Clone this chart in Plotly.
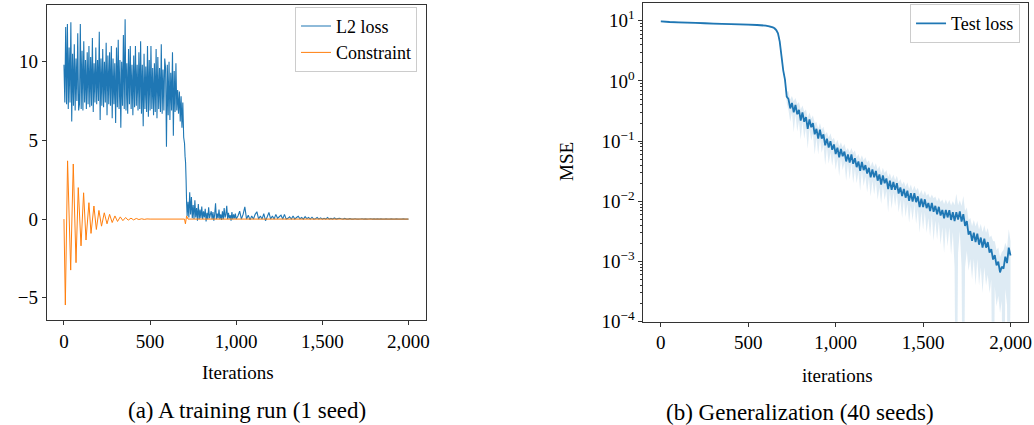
import plotly.graph_objects as go
import numpy as np

SERIF = "Liberation Serif, Times New Roman, serif"
BLUE = "#1f77b4"
ORANGE = "#ff7f0e"

# ---------------- (a) training run ----------------
l2_iter = (list(range(0, 701, 5)) + [703, 706, 709, 712]
           + list(range(715, 1001, 5)) + list(range(1010, 2001, 10)))
l2_loss = [
    9.8, 7.4, 12.2, 7.3, 12.4, 7.0, 10.9, 7.4, 12.5, 6.2,
    10.5, 7.2, 11.1, 6.9, 10.2, 7.5, 11.8, 6.9, 7.3, 12.4,
    7.0, 10.7, 6.9, 11.3, 7.4, 10.1, 7.0, 10.6, 7.3, 11.0,
    7.1, 10.3, 7.2, 11.5, 6.8, 9.9, 7.4, 10.9, 7.3, 10.1,
    7.5, 11.9, 6.3, 10.2, 7.2, 10.8, 7.1, 10.0, 7.4, 11.2,
    6.6, 10.4, 7.3, 10.6, 7.2, 11.0, 6.4, 10.2, 7.3, 9.9,
    6.1, 10.9, 7.1, 11.4, 7.0, 10.1, 5.8, 10.0, 7.2, 11.7,
    7.0, 12.7, 6.9, 9.9, 6.7, 10.8, 7.3, 11.0, 7.0, 9.8,
    6.6, 10.4, 7.1, 11.0, 7.2, 9.8, 6.9, 10.6, 7.0, 11.3,
    6.7, 9.8, 5.9, 10.5, 7.0, 9.7, 6.8, 11.0, 6.5, 10.1,
    6.9, 11.0, 7.0, 9.6, 6.6, 9.9, 6.8, 10.8, 6.4, 10.3,
    7.0, 9.6, 6.8, 11.1, 6.7, 9.5, 6.9, 10.2, 9.6, 4.6,
    9.8, 6.6, 10.0, 6.3, 9.3, 6.9, 10.6, 5.3, 9.4, 6.8,
    9.9, 6.9, 8.2, 6.7, 8.1, 6.2, 7.8, 5.8, 7.4, 5.2,
    4.8,
    4.0, 3.6, 2.5, 1.0,
    0.2, 1.1, 0.1, 1.7, 0.3, 1.4, 0.05, 0.9, 0.0, 1.2,
    0.1, 0.7, -0.1, 0.95, 0.0, 0.6, 0.05, 0.8, 0.0, 0.5,
    0.1, 0.65, -0.15, 0.4, 0.0, 0.75, 0.05, 0.3, 0.5, 0.0,
    0.45, -0.1, 0.3, 1.0, 0.0, 0.35, 0.05, 0.6, 0.0, 0.3,
    -0.05, 0.5, 0.0, 0.7, 0.1, 0.3, 0.85, 0.0, 0.4, 0.05,
    0.25, -0.1, 0.45, 0.0, 0.3, 0.05, 0.35, 0.0,
    0.2, 0.5, 0.0, 0.3, 0.78, 0.0, 0.25, -0.05, 0.2, 0.0,
    0.3, 0.47, 0.0, 0.2, 0.0, 0.35, -0.1, 0.15, 0.42, 0.0,
    0.2, 0.0, 0.3, 0.05, 0.15, 0.25, 0.0, 0.3, 0.0, 0.05,
    0.15, 0.0, 0.2, 0.0, 0.1, 0.18, 0.02, 0.1, 0.0, 0.15,
    0.03, 0.1, 0.0, 0.12, 0.0, 0.02, 0.1, 0.0, 0.08, 0.0,
    0.05, 0.0, 0.1, 0.0, 0.04, 0.0, 0.07, 0.0, 0.03, 0.05,
    0.02, 0.0, 0.04, 0.0, 0.0, 0.03, 0.0, 0.0, 0.02, 0.0,
    0.0, 0.01, 0.02, 0.0, 0.01, 0.0, 0.01, 0.02, 0.0, 0.01,
    0.0, 0.01, 0.0, 0.01, 0.0, 0.0, 0.01, 0.0, 0.0, 0.01,
    0.0, 0.0, 0.01, 0.0, 0.0, 0.0, 0.01, 0.0, 0.0, 0.0,
]

c_iter = [0, 8, 21, 39, 54, 70, 83, 99, 114, 128, 145, 157, 174, 188, 203,
          218, 234, 250, 265, 280, 296, 311, 327, 342, 358, 373, 389, 404,
          420, 435, 451, 466, 482, 500, 700, 705, 712, 720, 2000]
c_val = [0, -5.46, 3.7, -3.24, 3.5, -2.77, 2.0, -1.7, 1.67, -1.33, 1.04,
         -0.91, 0.83, -0.66, 0.55, -0.45, 0.4, -0.3, 0.3, -0.22, 0.2, -0.15,
         0.14, -0.1, 0.1, -0.07, 0.06, -0.05, 0.04, -0.03, 0.02, -0.02, 0.01,
         0, 0, -0.3, 0.2, 0, 0]

# ---------------- (b) generalization ----------------
test_iter = ([0, 50, 100, 150, 200, 250, 300, 350, 400, 450, 500, 550, 600,
              620, 640, 650, 660, 670, 680, 690] + list(range(700, 2001, 10)))
test_mean = [
    9.8, 9.55, 9.4, 9.3, 9.2, 9.1, 9.0, 8.9, 8.8, 8.7, 8.6, 8.5, 8.3,
    8.1, 7.8, 7.5, 7.0, 6.2, 4.5, 2.6,
    1.5, 1.05, 0.55, 0.50, 0.35, 0.43, 0.30, 0.40, 0.28, 0.33,
    0.22, 0.30, 0.21, 0.25, 0.16, 0.23, 0.17, 0.20, 0.13, 0.16,
    0.11, 0.155, 0.11, 0.13, 0.085, 0.11, 0.078, 0.10, 0.072, 0.088,
    0.061, 0.078, 0.054, 0.074, 0.056, 0.067, 0.046, 0.060, 0.044, 0.060,
    0.042, 0.052, 0.037, 0.046, 0.032, 0.045, 0.033, 0.040, 0.029, 0.036,
    0.025, 0.034, 0.025, 0.032, 0.022, 0.028, 0.019, 0.027, 0.020, 0.024,
    0.016, 0.022, 0.0155, 0.021, 0.0155, 0.020, 0.0135, 0.017, 0.0122, 0.016,
    0.0115, 0.015, 0.0102, 0.0137, 0.0099, 0.0136, 0.0097, 0.0121, 0.0080, 0.0111,
    0.0080, 0.0108, 0.0077, 0.0094, 0.0069, 0.0094, 0.0067, 0.0084, 0.0061, 0.0081,
    0.0058, 0.0072, 0.0052, 0.0072, 0.0054, 0.0071, 0.0049, 0.0066, 0.0047, 0.0066,
    0.0050, 0.0068, 0.0046, 0.0061, 0.0039, 0.0047, 0.0028, 0.0032, 0.0022, 0.0030,
    0.0021, 0.0029, 0.0019, 0.0025, 0.0017, 0.0024, 0.0017, 0.0021, 0.0014, 0.0016,
    0.00108, 0.00128, 0.00086, 0.00099, 0.00066, 0.00082, 0.00076, 0.0012, 0.00094, 0.0017,
    0.00126,
]
test_std = [
    0.3, 0.3, 0.3, 0.3, 0.3, 0.3, 0.3, 0.3, 0.3, 0.3, 0.3, 0.3, 0.3,
    0.3, 0.35, 0.4, 0.5, 0.6, 0.6, 0.4,
    0.1, 0.15, 0.12, 0.175, 0.14, 0.13, 0.16, 0.12, 0.135, 0.115,
    0.115, 0.09, 0.10, 0.084, 0.085, 0.069, 0.068, 0.066, 0.07, 0.048,
    0.05, 0.045, 0.046, 0.044, 0.045, 0.032, 0.036, 0.035, 0.033, 0.026,
    0.028, 0.027, 0.028, 0.022, 0.023, 0.023, 0.024, 0.017, 0.021, 0.017,
    0.022, 0.018, 0.017, 0.015, 0.017, 0.013, 0.015, 0.014, 0.015, 0.012,
    0.013, 0.012, 0.012, 0.011, 0.0115, 0.011, 0.010, 0.009, 0.0095, 0.0092,
    0.0094, 0.0074, 0.008, 0.007, 0.0072, 0.0066, 0.007, 0.0064, 0.0069, 0.0054,
    0.006, 0.0058, 0.0058, 0.0053, 0.0051, 0.0046, 0.0055, 0.0047, 0.005, 0.0043,
    0.0046, 0.0042, 0.0047, 0.0041, 0.0043, 0.0036, 0.0045, 0.0036, 0.0038, 0.0035,
    0.0039, 0.0035, 0.0038, 0.0035, 0.0036, 0.0034, 0.0036, 0.0035, 0.0039, 0.0067,
    0.0036, 0.0036, 0.0038, 0.0062, 0.0031, 0.0032, 0.0021, 0.0021, 0.0017, 0.0019,
    0.0017, 0.0018, 0.0015, 0.0017, 0.0014, 0.0016, 0.0013, 0.0015, 0.0011, 0.0011,
    0.00112, 0.0009, 0.00068, 0.00072, 0.00052, 0.0006, 0.0008, 0.00085, 0.00075, 0.00175,
    0.0009,
]

x_ticks = [0, 500, 1000, 1500, 2000]
x_ticktext = ["0", "500", "1,000", "1,500", "2,000"]
ya_ticks = [-5, 0, 5, 10]
ya_ticktext = ["\u22125", "0", "5", "10"]
yb_exps = [-4, -3, -2, -1, 0, 1]

mean_arr = np.array(test_mean)
std_arr = np.array(test_std)
test_hi = mean_arr + std_arr
test_lo = np.maximum(mean_arr - std_arr, 1e-7)

fig = go.Figure()
fig.add_trace(go.Scatter(x=l2_iter, y=l2_loss, mode="lines", name="L2 loss",
                         line=dict(color=BLUE, width=1.1, simplify=False),
                         xaxis="x", yaxis="y", legend="legend"))
fig.add_trace(go.Scatter(x=c_iter, y=c_val, mode="lines", name="Constraint",
                         line=dict(color=ORANGE, width=1, simplify=False),
                         xaxis="x", yaxis="y", legend="legend"))

fig.add_trace(go.Scatter(x=test_iter, y=test_hi, mode="lines",
                         line=dict(width=0, simplify=False),
                         showlegend=False, hoverinfo="skip", xaxis="x2", yaxis="y2"))
fig.add_trace(go.Scatter(x=test_iter, y=test_lo, mode="lines",
                         line=dict(width=0, simplify=False),
                         fill="tonexty", fillcolor="rgba(31,119,180,0.15)",
                         showlegend=False, hoverinfo="skip", xaxis="x2", yaxis="y2"))
fig.add_trace(go.Scatter(x=test_iter, y=test_mean, mode="lines", name="Test loss",
                         line=dict(color=BLUE, width=1.8, simplify=False),
                         xaxis="x2", yaxis="y2", legend="legend2"))

tickfont = dict(family=SERIF, size=19, color="black")
common = dict(showline=True, mirror=True, linecolor="#333", linewidth=1,
              ticks="outside", ticklen=4, tickcolor="#333", showgrid=False,
              zeroline=False, tickfont=tickfont, automargin=False)

minor_vals = []
for e in range(-4, 1):
    for m in range(2, 10):
        minor_vals.append(m * 10.0 ** e)
minor_vals.append(20.0)

legend_common = dict(xanchor="right", yanchor="top", bordercolor="#cccccc",
                     borderwidth=1, bgcolor="rgba(255,255,255,0.85)",
                     traceorder="normal",
                     font=dict(family=SERIF, size=18, color="black"))

fig.update_layout(
    width=1034, height=425,
    margin=dict(l=0, r=0, t=0, b=0, autoexpand=False),
    paper_bgcolor="white", plot_bgcolor="white",
    font=dict(family=SERIF, size=19, color="black"),
    xaxis=dict(domain=[0.0452, 0.4117], range=[-100, 2100], anchor="y",
               tickvals=x_ticks, ticktext=x_ticktext, **common),
    yaxis=dict(domain=[0.2471, 0.9882], range=[-6.41, 13.6], anchor="x",
               tickvals=ya_ticks, ticktext=ya_ticktext, **common),
    xaxis2=dict(domain=[0.6222, 0.9942], range=[-100, 2100], anchor="y2",
                tickvals=x_ticks, ticktext=x_ticktext, **common),
    yaxis2=dict(domain=[0.2431, 0.9936], type="log", range=[-4, 1.3], anchor="x2",
                tickvals=[10.0 ** e for e in yb_exps],
                ticktext=["10<sup>\u2212%d</sup>" % -e if e < 0 else "10<sup>%d</sup>" % e
                          for e in yb_exps],
                minor=dict(tickvals=minor_vals, ticks="outside", ticklen=2,
                           tickcolor="#333", showgrid=False),
                **common),
    legend=dict(x=0.4033, y=0.984, **legend_common),
    legend2=dict(x=0.9865, y=0.99, **legend_common),
    showlegend=True,
)

def ann(text, x, y, size=19, angle=0):
    fig.add_annotation(text=text, x=x / 1034, y=1 - y / 425, xref="paper",
                       yref="paper", showarrow=False, textangle=angle,
                       xanchor="center", yanchor="middle",
                       font=dict(family=SERIF, size=size, color="black"))

ann("Iterations", 238, 372)
ann("iterations", 837, 375)
ann("MSE", 567, 162, angle=-90)
ann("(a) A training run (1 seed)", 247, 410, size=23)
ann("(b) Generalization (40 seeds)", 800, 412, size=23)

fig.write_html("out.html", config={"displayModeBar": False},
               post_script="document.body.style.margin='0';document.body.style.overflow='hidden';")
